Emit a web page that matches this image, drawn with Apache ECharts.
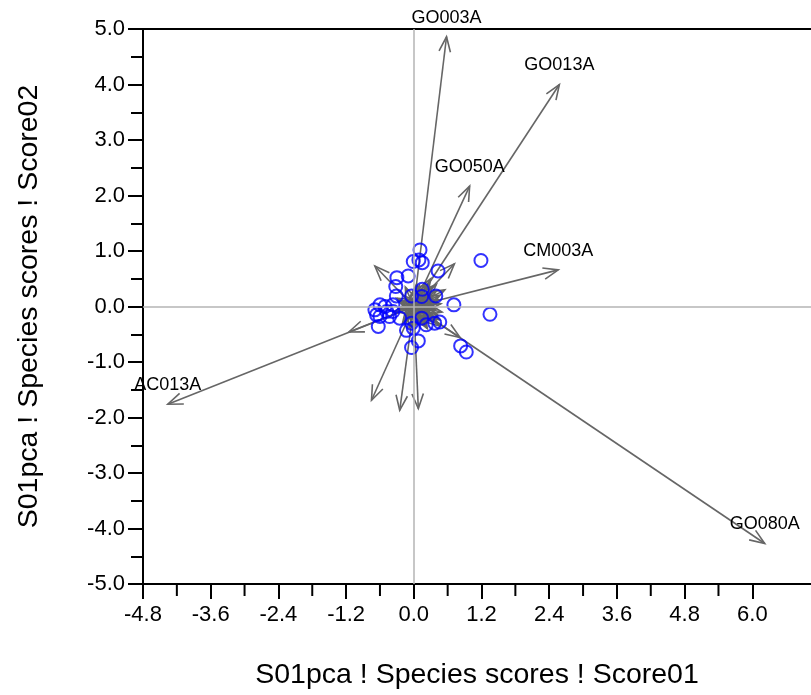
<!DOCTYPE html>
<html>
<head>
<meta charset="utf-8">
<script src="https://cdn.jsdelivr.net/npm/echarts@6/dist/echarts.min.js"></script>
<style>html,body{margin:0;padding:0;background:#fff}#c{width:811px;height:695px}</style>
</head>
<body>
<div id="c"></div>
<script>
// Species arrows (Score01, Score02)
const arrowX = [0.58, 2.58, 0.99, 2.56, -4.36, 6.22, -1.15, -0.75, -0.25, 0.08, -0.69, 0.72, 0.82,
  0.30, 0.40, 0.35, 0.20, 0.00, -0.20, -0.35, -0.30, -0.15, 0.05, 0.25, 0.45, 0.45, 0.15, 0.25, 0.10, -0.10, 0.55, 0.30, -0.05,
  0.38, 0.28, 0.12, -0.18, 0.22, 0.42, 0.33, 0.05, -0.25, 0.18, 0.48, 0.30, -0.12, 0.40, 0.08,
  0.50, 0.36, 0.20, 0.02, -0.22, -0.08, 0.26, 0.44, 0.34, 0.14, -0.16, 0.46, 0.10, 0.32, -0.28, 0.24, 0.40, 0.06];
const arrowY = [4.86, 4.00, 2.17, 0.66, -1.76, -4.27, -0.46, -1.69, -1.87, -1.84, 0.73, 0.77, -0.56,
  0.25, 0.05, -0.20, -0.35, -0.40, -0.30, -0.10, 0.15, 0.35, 0.40, 0.40, 0.20, -0.35, 0.15, -0.05, -0.20, 0.10, 0.30, 0.50, -0.25,
  -0.05, 0.18, 0.30, 0.20, -0.28, -0.15, 0.35, -0.32, -0.05, 0.05, 0.05, -0.12, -0.15, 0.28, 0.22,
  -0.10, -0.28, 0.42, 0.32, 0.08, -0.38, 0.00, 0.12, -0.22, -0.30, -0.22, -0.24, 0.38, 0.08, 0.10, -0.40, 0.40, -0.12];
const arrowLabels = ["GO003A", "GO013A", "GO050A", "CM003A", "AC013A", "GO080A"];

// Sample scores (circles)
const siteX = [0.11, -0.01, 0.09, 0.15, 0.43, -0.30, -0.10, -0.32, 0.15, 0.39, -0.31, -0.04,
  1.19, 0.71, 1.35, 0.83, 0.93, 0.46, 0.14, -0.60, -0.51, -0.69, -0.66, -0.60, -0.48, -0.37,
  -0.37, -0.43, -0.63, -0.25, -0.04, 0.14, 0.22, 0.37, -0.13, 0.08, -0.04, -0.01];
const siteY = [1.02, 0.81, 0.84, 0.79, 0.64, 0.52, 0.55, 0.36, 0.31, 0.19, 0.19, 0.19,
  0.83, 0.03, -0.14, -0.71, -0.82, -0.28, 0.18, 0.03, 0.00, -0.06, -0.15, -0.18, -0.09, 0.03,
  -0.09, -0.18, -0.36, -0.21, -0.30, -0.21, -0.33, -0.30, -0.43, -0.62, -0.74, -0.39];

const xMajorTicks = [-4.8, -3.6, -2.4, -1.2, 0.0, 1.2, 2.4, 3.6, 4.8, 6.0];
const xMinorTicks = [-4.2, -3.0, -1.8, -0.6, 0.6, 1.8, 3.0, 4.2, 5.4];
const yTickLabels = [-5, -4, -3, -2, -1, 0, 1, 2, 3, 4, 5];

const FONT = "'Liberation Sans', Arial, sans-serif";
const chart = echarts.init(document.getElementById('c'), null, {renderer: 'canvas'});

const arrowData = arrowX.map((x, i) => [x, arrowY[i], arrowLabels[i] || ""]);
const siteData = siteX.map((x, i) => [x, siteY[i]]);

function renderArrow(params, api) {
  const x = api.value(0), y = api.value(1);
  const lab = arrowData[params.dataIndex][2];
  const p0 = api.coord([0, 0]);
  const p1 = api.coord([x, y]);
  const dx = p1[0] - p0[0], dy = p1[1] - p0[1];
  const len = Math.sqrt(dx * dx + dy * dy) || 1;
  const ux = dx / len, uy = dy / len;
  const L = 16, a = 21 * Math.PI / 180;
  const c = Math.cos(a), s = Math.sin(a);
  const w1 = [p1[0] - L * (ux * c - uy * s), p1[1] - L * (uy * c + ux * s)];
  const w2 = [p1[0] - L * (ux * c + uy * s), p1[1] - L * (uy * c - ux * s)];
  const st = {stroke: '#666666', lineWidth: 1.6, fill: null};
  const children = [
    {type: 'line', shape: {x1: p0[0], y1: p0[1], x2: p1[0], y2: p1[1]}, style: st},
    {type: 'polyline', shape: {points: [w1, p1, w2]}, style: st}
  ];
  if (lab) {
    children.push({type: 'text', style: {text: lab, x: p1[0], y: p1[1] - 19, align: 'center', verticalAlign: 'middle',
      font: '18px ' + FONT, fill: '#000'}});
  }
  return {type: 'group', children: children};
}

function renderMinorTick(params, api) {
  const p = api.coord([api.value(0), -5]);
  return {type: 'line', shape: {x1: p[0], y1: p[1], x2: p[0], y2: p[1] + 12}, style: {stroke: '#000', lineWidth: 2}};
}

chart.setOption({
  animation: false,
  backgroundColor: '#fff',
  grid: {left: 143, top: 29, right: 0, bottom: 104, containLabel: false},
  xAxis: [{
    type: 'value', min: -4.8, max: 7.04, position: 'bottom',
    name: 'S01pca ! Species scores ! Score01', nameLocation: 'middle', nameGap: 77,
    nameTextStyle: {fontSize: 28.5, fontFamily: FONT, color: '#000'},
    axisLine: {show: true, onZero: false, lineStyle: {color: '#000', width: 2}},
    axisTick: {show: true, customValues: xMajorTicks, length: 15, lineStyle: {color: '#000', width: 2}},
    axisLabel: {show: true, customValues: xMajorTicks, margin: 20, fontSize: 22, fontFamily: FONT, color: '#000',
      formatter: v => v.toFixed(1)},
    splitLine: {show: false}
  }, {
    type: 'value', min: -4.8, max: 7.04, position: 'top',
    axisLine: {show: true, onZero: false, lineStyle: {color: '#000', width: 2}},
    axisTick: {show: false}, axisLabel: {show: false}, splitLine: {show: false}
  }],
  yAxis: [{
    type: 'value', min: -5, max: 5, interval: 1, position: 'left',
    name: 'S01pca ! Species scores ! Score02', nameLocation: 'middle', nameGap: 99,
    nameTextStyle: {fontSize: 28.5, fontFamily: FONT, color: '#000'},
    axisLine: {show: true, onZero: false, lineStyle: {color: '#000', width: 2}},
    axisTick: {show: true, length: 15, lineStyle: {color: '#000', width: 2}},
    minorTick: {show: true, splitNumber: 2, length: 12, lineStyle: {color: '#000', width: 2}},
    axisLabel: {show: true, margin: 18, fontSize: 22, fontFamily: FONT, color: '#000',
      customValues: yTickLabels, formatter: v => v.toFixed(1)},
    splitLine: {show: false}
  }],
  series: [{
    type: 'scatter', data: [], z: 1, silent: true,
    markLine: {silent: true, symbol: 'none', label: {show: false}, animation: false,
      lineStyle: {color: '#b4b4b4', width: 1.5, type: 'solid'},
      data: [{xAxis: 0}, {yAxis: 0}]}
  }, {
    type: 'custom', data: xMinorTicks.map(v => [v]), renderItem: renderMinorTick, clip: false, silent: true, z: 5,
    encode: {x: 0}
  }, {
    type: 'custom', data: arrowData, renderItem: renderArrow, z: 2, silent: true, clip: false,
    encode: {x: 0, y: 1}
  }, {
    type: 'scatter', data: siteData, z: 3, symbol: 'circle', symbolSize: 13, silent: true,
    itemStyle: {color: 'rgba(0,0,0,0)', borderColor: '#0000ff', borderWidth: 2}
  }]
});
</script>
</body>
</html>
